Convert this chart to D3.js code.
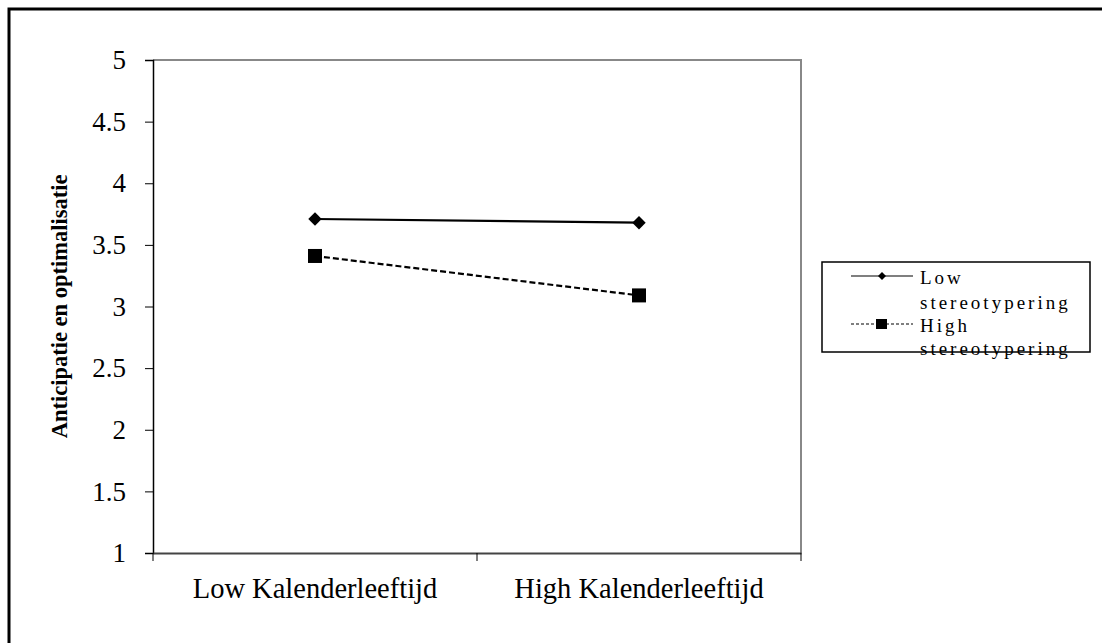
<!DOCTYPE html>
<html><head><meta charset="utf-8">
<script src="https://cdn.jsdelivr.net/npm/d3@7"></script>
<style>body{margin:0;background:#fff}svg{display:block}</style>
</head><body>
<script>
const categories = ["Low Kalenderleeftijd", "High Kalenderleeftijd"];
const lowStereo = [3.71, 3.68];
const highStereo = [3.41, 3.09];
const seriesNames = ["Low stereotypering", "High stereotypering"];
const yTicks = [1, 1.5, 2, 2.5, 3, 3.5, 4, 4.5, 5];
const yTitle = "Anticipatie en optimalisatie";

const W = 1102, H = 643;
const svg = d3.select("body").append("svg").attr("width", W).attr("height", H);
const serif = "'Liberation Serif','Times New Roman',serif";

// outer frame (top & left only visible)
svg.append("path").attr("d", `M9,${H} V9 H${W}`).attr("fill","none").attr("stroke","#000").attr("stroke-width",3);

const L = 153, R = 801, T = 60, B = 553;
const x = d3.scalePoint().domain(categories).range([L, R]).padding(0.5);
const xb = d3.scaleBand().domain(categories).range([L, R]);
const y = d3.scaleLinear().domain([1, 5]).range([B, T]);

// plot border (top, right) gray
svg.append("path").attr("d", `M${L},${T} H${R} V${B}`).attr("fill","none").attr("stroke","#888").attr("stroke-width",2);

// y axis
const ya = svg.append("g").attr("transform", `translate(${L},0)`)
  .call(d3.axisLeft(y).tickValues(yTicks).tickSize(8).tickPadding(19).tickFormat(d => d));
ya.select(".domain").attr("stroke","#000").attr("stroke-width",1.5);
ya.selectAll(".tick line").attr("stroke","#000");
ya.selectAll("text").attr("font-family", serif).attr("font-size", 27).attr("fill","#000");

// x axis
const xa = svg.append("g").attr("transform", `translate(0,${B})`)
  .call(d3.axisBottom(xb).tickSize(0));
xa.select(".domain").attr("stroke","#444").attr("stroke-width",2);
xa.selectAll("text").attr("y", 45).attr("dy", null)
  .attr("font-family", serif).attr("font-size", 28.5).attr("fill","#000");
const edges = [L, ...categories.map(c => xb(c) + xb.bandwidth())];
svg.append("g").selectAll("line").data(edges).join("line")
  .attr("x1", d => d).attr("x2", d => d).attr("y1", B).attr("y2", B + 8)
  .attr("stroke","#000").attr("stroke-width",1);

// y title
svg.append("text").attr("transform", `translate(67,${(T+B)/2}) rotate(-90)`)
  .attr("text-anchor","middle").attr("font-family", serif).attr("font-size", 22.5)
  .attr("font-weight","bold").text(yTitle);

const line = d3.line().x((d,i) => x(categories[i])).y(d => y(d));
svg.append("path").datum(lowStereo).attr("d", line).attr("fill","none").attr("stroke","#000").attr("stroke-width",2.2);
svg.append("path").datum(highStereo).attr("d", line).attr("fill","none").attr("stroke","#000").attr("stroke-width",2.2).attr("stroke-dasharray","6,3");

svg.append("g").selectAll("path").data(lowStereo).join("path")
  .attr("d", d3.symbol().type(d3.symbolSquare).size(90))
  .attr("transform",(d,i)=>`translate(${x(categories[i])},${y(d)}) rotate(45)`)
  .attr("fill","#000");
svg.append("g").selectAll("rect").data(highStereo).join("rect")
  .attr("x", (d,i) => x(categories[i]) - 7).attr("y", d => y(d) - 7)
  .attr("width", 14).attr("height", 14).attr("fill","#000");

// legend
const lg = svg.append("g");
lg.append("rect").attr("x", 822).attr("y", 262).attr("width", 268).attr("height", 90)
  .attr("fill","#fff").attr("stroke","#000").attr("stroke-width",1.5);
lg.append("line").attr("x1",851).attr("x2",913).attr("y1",276).attr("y2",276).attr("stroke","#000").attr("stroke-width",1.2);
lg.append("path").attr("d", d3.symbol().type(d3.symbolSquare).size(32)).attr("transform","translate(882,276) rotate(45)").attr("fill","#000");
lg.append("line").attr("x1",851).attr("x2",913).attr("y1",324).attr("y2",324).attr("stroke","#000").attr("stroke-width",1.2).attr("stroke-dasharray","3,2");
lg.append("rect").attr("x",876).attr("y",319).attr("width",11).attr("height",10).attr("fill","#000");
const legLines = [["Low", 277], ["stereotypering", 302], ["High", 325], ["stereotypering", 348]];
lg.selectAll("text").data(legLines).join("text")
  .attr("x", 920).attr("y", d => d[1]).attr("dy","0.35em")
  .attr("font-family", serif).attr("font-size", 19).attr("letter-spacing", 3)
  .text(d => d[0]);
</script>
</body></html>
